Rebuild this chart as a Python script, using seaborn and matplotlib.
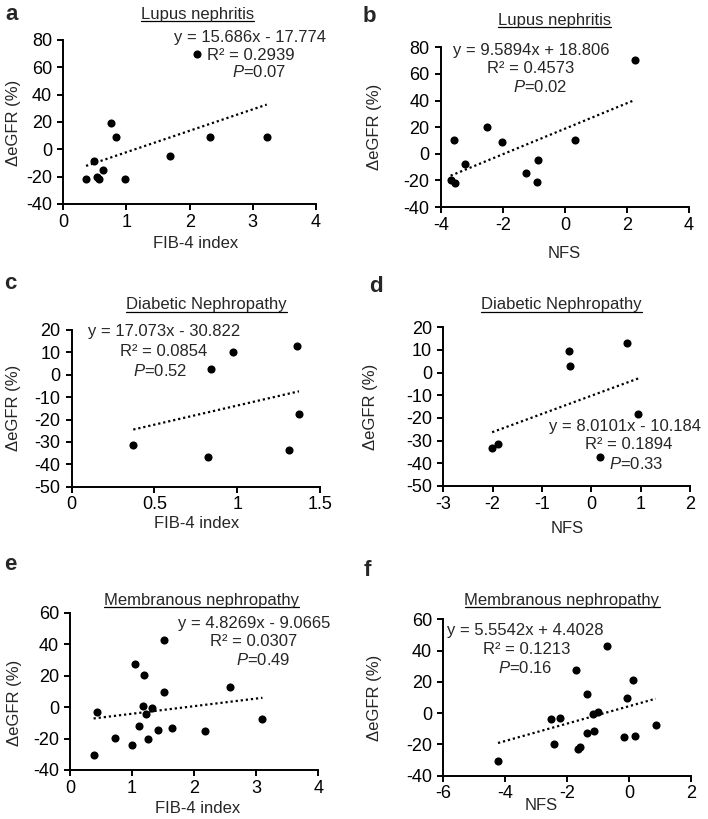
import numpy as np
import pandas as pd
import seaborn as sns
import matplotlib
matplotlib.use("Agg")
import matplotlib.pyplot as plt

# ---- data ----
a_x = [0.36, 0.49, 0.53, 0.56, 0.63, 0.76, 0.84, 0.98, 1.69, 2.12, 2.33, 3.22]
a_y = [-22.0, -8.3, -20.5, -22.0, -15.1, 19.5, 8.8, -21.5, -5.1, 69.8, 9.3, 9.3]

b_x = [-3.68, -3.55, -3.56, -3.22, -2.50, -2.01, -1.24, -0.90, -0.88, 0.32, 2.26]
b_y = [-20.0, -22.0, 10.1, -7.5, 20.1, 9.1, -14.7, -21.0, -5.0, 10.1, 70.5]

c_x = [0.372, 0.825, 0.844, 0.974, 1.311, 1.361, 1.373]
c_y = [-31.3, -36.9, 2.7, 10.2, -33.4, 13.0, -17.6]

d_x = [-2.01, -1.89, -0.46, -0.44, 0.73, 0.95, 0.18]
d_y = [-33.1, -31.3, 9.7, 2.8, 12.9, -18.2, -37.4]

e_x = [0.38, 0.43, 0.73, 1.00, 1.05, 1.11, 1.17, 1.19, 1.22, 1.26, 1.32, 1.41,
       1.51, 1.51, 1.65, 2.18, 2.58, 3.10]
e_y = [-30.5, -3.1, -19.9, -23.9, 27.2, -11.8, 0.9, 20.4, -4.4, -20.5, -0.4, -14.6,
       42.6, 9.6, -13.3, -15.0, 12.5, -7.8]

f_x = [-4.23, -2.51, -2.42, -2.22, -1.71, -1.65, -1.58, -1.36, -1.36, -1.17, -1.13,
       -0.99, -0.71, -0.16, -0.07, 0.15, 0.20, 0.87]
f_y = [-30.4, -4.0, -19.5, -3.3, 27.6, -22.9, -21.4, 12.2, -12.5, -0.6, -11.2,
       0.7, 42.9, -15.5, 9.5, 21.0, -14.8, -7.6]

slopes = [15.686, 9.5894, 17.073, 8.0101, 4.8269, 5.5542]
intercepts = [-17.774, 18.806, -30.822, -10.184, -9.0665, 4.4028]
equations = ["y = 15.686x - 17.774", "y = 9.5894x + 18.806", "y = 17.073x - 30.822",
             "y = 8.0101x - 10.184", "y = 4.8269x - 9.0665", "y = 5.5542x + 4.4028"]
r2_labels = ["R² = 0.2939", "R² = 0.4573", "R² = 0.0854",
             "R² = 0.1894", "R² = 0.0307", "R² = 0.1213"]
p_values = ["0.07", "0.02", "0.52", "0.33", "0.49", "0.16"]
titles = ["Lupus nephritis", "Lupus nephritis", "Diabetic Nephropathy",
          "Diabetic Nephropathy", "Membranous nephropathy", "Membranous nephropathy"]
xlabels = ["FIB-4 index", "NFS", "FIB-4 index", "NFS", "FIB-4 index", "NFS"]
letters = ["a", "b", "c", "d", "e", "f"]

xticks = [np.arange(0, 5, 1), np.arange(-4, 5, 2), np.arange(0, 1.6, 0.5),
          np.arange(-3, 3, 1), np.arange(0, 5, 1), np.arange(-6, 3, 2)]
yticks = [np.arange(-40, 81, 20), np.arange(-40, 81, 20), np.arange(-50, 21, 10),
          np.arange(-50, 21, 10), np.arange(-40, 61, 20), np.arange(-40, 61, 20)]

xs = [a_x, b_x, c_x, d_x, e_x, f_x]
ys = [a_y, b_y, c_y, d_y, e_y, f_y]

# ---- layout (figure pixels, origin top-left) ----
W, H = 708, 819
axes_px = [(63.3, 40, 316, 204), (440.7, 47.3, 689, 207),
           (71.7, 330, 320, 486.7), (443.3, 327.3, 690, 486),
           (70, 612.7, 318.3, 770), (443.3, 619.3, 690.7, 775.7)]
letter_px = [(11.5, 15), (369, 16.7), (10, 283.3), (375.7, 286.7), (10, 565), (367.3, 570)]
title_px = [(197.8, 14.5), (554.3, 20), (206.7, 305), (561.7, 305), (201.7, 600), (562, 600)]
eq_px = [[(250.5, 37.3), (250.5, 55), (259, 71.7)],
         [(531, 50), (530.7, 68.3), (540.7, 87.3)],
         [(163.8, 331.7), (163.3, 351.7), (160.5, 371)],
         [(624.8, 426.7), (628.5, 445), (636.5, 464)],
         [(254.2, 623.3), (253.8, 641.7), (263.7, 660)],
         [(525.7, 630), (526.2, 649.3), (525.3, 668.3)]]
ylab_px = [(13.3, 123), (374, 126.7), (13.3, 408.3), (370.7, 406.7), (15, 703.3), (374, 698.3)]
xlab_px = [(196, 243.3), (564, 253.3), (196.7, 523.3), (567.3, 528.3), (197.7, 808.3), (540.7, 805)]


def fx(x):
    return x / W


def fy(y):
    return 1 - y / H


sns.set_style("ticks")
plt.rcParams['font.family'] = ['Liberation Sans', 'DejaVu Sans']
plt.rcParams['mathtext.fontset'] = 'custom'
plt.rcParams['mathtext.it'] = 'Liberation Sans:italic'
FS = 12
TFS = 13

fig = plt.figure(figsize=(W / 100, H / 100), dpi=100)
titles_txt = []

for i in range(6):
    x0, y0, x1, y1 = axes_px[i]
    ax = fig.add_axes([fx(x0), fy(y1), fx(x1 - x0), (y1 - y0) / H])
    df = pd.DataFrame({"x": xs[i], "y": ys[i]})
    sns.scatterplot(data=df, x="x", y="y", ax=ax, color="black", s=34,
                    edgecolor="black", linewidth=0, zorder=3)
    lx = np.array([min(xs[i]), max(xs[i])])
    line_df = pd.DataFrame({"x": lx, "y": slopes[i] * lx + intercepts[i]})
    sns.lineplot(data=line_df, x="x", y="y", ax=ax, color="black",
                 linestyle=(0, (1, 1.3)), linewidth=1.6)
    ax.set_xticks(xticks[i])
    ax.set_yticks(yticks[i])
    ax.set_xlim(xticks[i][0], xticks[i][-1])
    ax.set_ylim(yticks[i][0], yticks[i][-1])
    ax.set_xticklabels([f"{v:g}" for v in xticks[i]])
    ax.set_yticklabels([f"{v:g}" for v in yticks[i]])
    ax.set_xlabel("")
    ax.set_ylabel("")
    sns.despine(ax=ax)
    for s in ["left", "bottom"]:
        ax.spines[s].set_linewidth(1.4)
        ax.spines[s].set_color("black")
        ax.spines[s].set_clip_on(False)
    ax.tick_params(direction="out", length=4, width=1.4, labelsize=TFS,
                   colors="black")
    ax.tick_params(axis="x", pad=3)
    ax.tick_params(axis="y", pad=4)

    fig.text(fx(letter_px[i][0]), fy(letter_px[i][1]), letters[i], fontsize=16,
             fontweight="bold", ha="center", va="center")
    t = fig.text(fx(title_px[i][0]), fy(title_px[i][1]), titles[i], fontsize=FS,
                 ha="center", va="center")
    titles_txt.append(t)
    (e1, e2, e3) = eq_px[i]
    fig.text(fx(e1[0]), fy(e1[1]), equations[i], fontsize=FS, ha="center", va="center")
    fig.text(fx(e2[0]), fy(e2[1]), r2_labels[i], fontsize=FS, ha="center", va="center")
    fig.text(fx(e3[0]), fy(e3[1]), "$P$=" + p_values[i], fontsize=FS,
             ha="center", va="center")
    fig.text(fx(ylab_px[i][0]), fy(ylab_px[i][1]), "ΔeGFR (%)", fontsize=FS,
             rotation=90, ha="center", va="center")
    fig.text(fx(xlab_px[i][0]), fy(xlab_px[i][1]), xlabels[i], fontsize=FS,
             ha="center", va="center")

# underline the panel titles
fig.canvas.draw()
renderer = fig.canvas.get_renderer()
for t in titles_txt:
    bb = t.get_window_extent(renderer)
    fig.add_artist(plt.Line2D([bb.x0 / W, bb.x1 / W], [(bb.y0 + 1) / H] * 2,
                              transform=fig.transFigure, color="black", linewidth=0.9))

fig.savefig("out.png", dpi=100)
